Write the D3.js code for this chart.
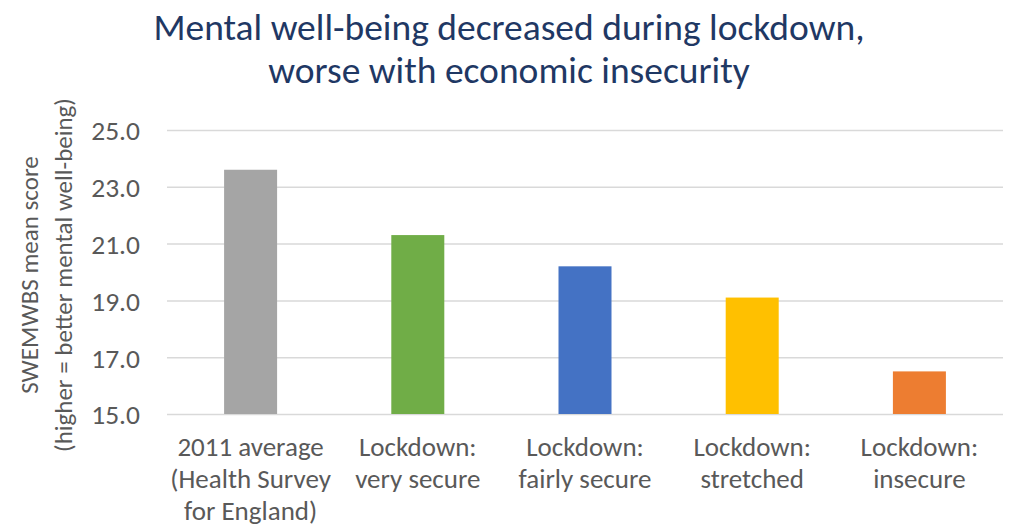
<!DOCTYPE html>
<html>
<head>
<meta charset="utf-8">
<script src="https://cdn.jsdelivr.net/npm/d3@7"></script>
<style>
  body { margin: 0; background: #fff; }
  text { font-family: "Liberation Sans Narrow", "Carlito", "Open Sans", sans-serif; }
</style>
</head>
<body>
<script>
var categories = [
    ["2011 average", "(Health Survey", "for England)"],
    ["Lockdown:", "very secure"],
    ["Lockdown:", "fairly secure"],
    ["Lockdown:", "stretched"],
    ["Lockdown:", "insecure"]
];
var scores = [23.6, 21.3, 20.2, 19.1, 16.5];
var barColors = ["#A5A5A5", "#70AD47", "#4472C4", "#FFC000", "#ED7D31"];
var yTicks = [15, 17, 19, 21, 23, 25];
var titleLines = ["Mental well-being decreased during lockdown,", "worse with economic insecurity"];
var yTitleLines = ["SWEMWBS mean score", "(higher = better mental well-being)"];

var svg = d3.select("body")
    .append("svg")
    .attr("width", "1013")
    .attr("height", "527")
    .style('display', 'block');
var margin = {top: 130, right: 10, bottom: 113, left: 167};
var width = +svg.attr("width") - margin.left - margin.right;
var height = +svg.attr("height") - margin.top - margin.bottom;
var g = svg.append("g").attr("transform", "translate(" + margin.left + "," + margin.top + ")");

var x = d3.scaleBand()
    .domain(d3.range(categories.length))
    .range([0, width]);

var y = d3.scaleLinear()
    .domain([15, 25])
    .range([height, 0]);

var yAxis = d3.axisLeft(y)
    .tickValues(yTicks)
    .tickSize(-width)
    .tickFormat(d3.format(".1f"))
    .tickPadding(27);

g.append("g")
    .call(customYAxis);

var barWidth = x.bandwidth() * 0.317;

g.selectAll("rect")
    .data(scores)
    .enter()
    .append("rect")
    .attr("x", function(d, i) { return x(i) + (x.bandwidth() - barWidth) / 2; })
    .attr("y", function(d) { return y(d); })
    .attr("width", barWidth)
    .attr("height", function(d) { return height - y(d); })
    .attr("fill", function(d, i) { return barColors[i]; });

// category labels, one tspan per line
var labels = g.selectAll(".cat")
    .data(categories)
    .enter()
    .append("text")
    .attr("class", "cat")
    .attr("text-anchor", "middle")
    .attr("transform", function(d, i) { return "translate(" + (x(i) + x.bandwidth() / 2) + "," + (height + 42) + ")"; })
    .style("font-size", "27px")
    .style("fill", "#595959");

labels.selectAll("tspan")
    .data(function(d) { return d; })
    .enter()
    .append("tspan")
    .attr("x", 0)
    .attr("y", function(d, i) { return i * 32; })
    .text(function(d) { return d; });

function customYAxis(g) {
    g.call(yAxis);
    g.select(".domain").remove();
    g.selectAll(".tick line").attr("stroke", "#D9D9D9").attr("stroke-width", 1.5);
    g.selectAll(".tick text")
        .style("font-size", "27.5px")
        .style("font-family", null)
        .attr("dy", "0.36em")
        .attr("fill", "#595959");
}

svg.selectAll(".title")
    .data(titleLines)
    .enter()
    .append("text")
    .attr("class", "title")
    .attr("x", 509)
    .attr("y", function(d, i) { return 40 + i * 43; })
    .attr("text-anchor", "middle")
    .style("font-size", "37.5px")
    .style("fill", "#1F3864")
    .text(function(d) { return d; });

svg.selectAll(".ytitle")
    .data(yTitleLines)
    .enter()
    .append("text")
    .attr("class", "ytitle")
    .attr("transform", function(d, i) { return "translate(" + (38 + i * 34) + "," + 275 + ") rotate(-90)"; })
    .attr("text-anchor", "middle")
    .style("font-size", "25px")
    .style("fill", "#595959")
    .text(function(d) { return d; });
</script>
</body>
</html>
